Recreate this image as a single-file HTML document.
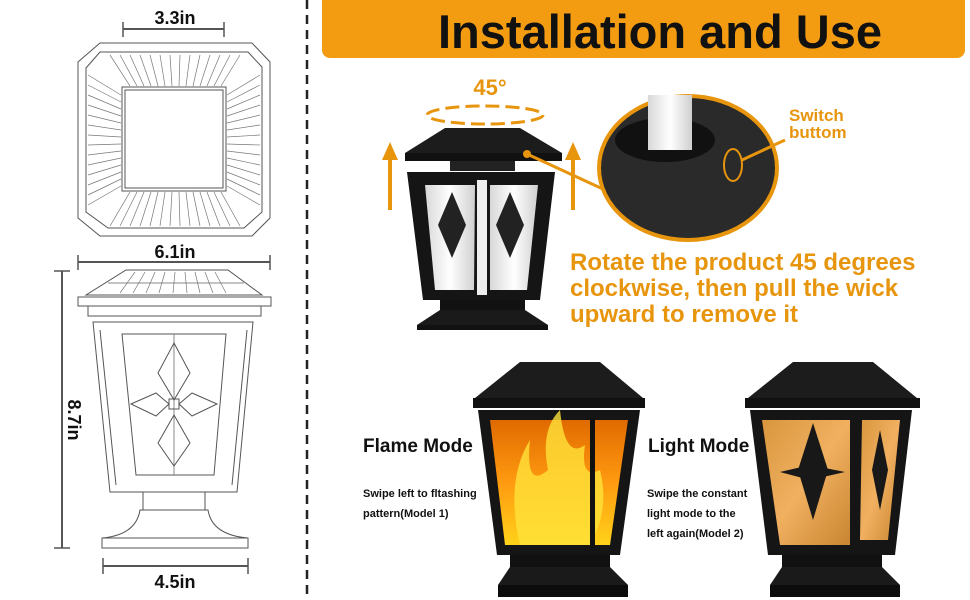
<!DOCTYPE html>
<html><head><meta charset="utf-8"><style>
html,body{margin:0;padding:0;background:#fff;width:970px;height:600px;overflow:hidden}
svg{display:block}
text{font-family:"Liberation Sans",sans-serif;font-weight:bold}
</style></head><body>
<svg width="970" height="600" viewBox="0 0 970 600" xmlns="http://www.w3.org/2000/svg">
<defs>
<linearGradient id="fl" x1="0" y1="1" x2="0" y2="0">
<stop offset="0" stop-color="#ffd21a"/><stop offset="0.5" stop-color="#ff9a10"/><stop offset="1" stop-color="#e06a00"/></linearGradient>
<linearGradient id="lt" x1="0" y1="0" x2="1" y2="1">
<stop offset="0" stop-color="#d9963d"/><stop offset="0.5" stop-color="#f0b060"/><stop offset="1" stop-color="#c98530"/></linearGradient>
<linearGradient id="gl" x1="0" y1="0" x2="1" y2="0">
<stop offset="0" stop-color="#d8d8d8"/><stop offset="0.5" stop-color="#ffffff"/><stop offset="1" stop-color="#cfcfcf"/></linearGradient>
</defs>

<g stroke="#555" fill="none" stroke-width="1">
<line x1="123" y1="29" x2="224" y2="29" stroke-width="2"/>
<line x1="123" y1="22" x2="123" y2="37" stroke-width="1.5"/>
<line x1="224" y1="22" x2="224" y2="37" stroke-width="1.5"/>
<polygon points="100,43 252,43 270,62 270,218 252,236 100,236 78,218 78,62"/>
<polygon points="100,52 248,52 262,67 262,212 244,228 108,228 86,212 86,68"/>
<rect x="122" y="87" width="104" height="104"/>
<rect x="125" y="90" width="98" height="98"/>
</g>
<g stroke="#777" stroke-width="0.7">
<line x1="110" y1="55" x2="130" y2="86"/><line x1="120" y1="55" x2="137" y2="86"/><line x1="130" y1="55" x2="144" y2="86"/><line x1="140" y1="55" x2="151" y2="86"/><line x1="150" y1="55" x2="158" y2="86"/><line x1="160" y1="55" x2="165" y2="86"/><line x1="170" y1="55" x2="172" y2="86"/><line x1="180" y1="55" x2="179" y2="86"/><line x1="190" y1="55" x2="186" y2="86"/><line x1="200" y1="55" x2="193" y2="86"/><line x1="210" y1="55" x2="200" y2="86"/><line x1="220" y1="55" x2="207" y2="86"/><line x1="230" y1="55" x2="214" y2="86"/><line x1="240" y1="55" x2="221" y2="86"/>
<line x1="110" y1="226" x2="130" y2="192"/><line x1="120" y1="226" x2="137" y2="192"/><line x1="130" y1="226" x2="144" y2="192"/><line x1="140" y1="226" x2="151" y2="192"/><line x1="150" y1="226" x2="158" y2="192"/><line x1="160" y1="226" x2="165" y2="192"/><line x1="170" y1="226" x2="172" y2="192"/><line x1="180" y1="226" x2="179" y2="192"/><line x1="190" y1="226" x2="186" y2="192"/><line x1="200" y1="226" x2="193" y2="192"/><line x1="210" y1="226" x2="200" y2="192"/><line x1="220" y1="226" x2="207" y2="192"/><line x1="230" y1="226" x2="214" y2="192"/><line x1="240" y1="226" x2="221" y2="192"/>
<line x1="88" y1="75" x2="121" y2="95"/><line x1="88" y1="85" x2="121" y2="102"/><line x1="88" y1="95" x2="121" y2="109"/><line x1="88" y1="105" x2="121" y2="116"/><line x1="88" y1="115" x2="121" y2="123"/><line x1="88" y1="125" x2="121" y2="130"/><line x1="88" y1="135" x2="121" y2="137"/><line x1="88" y1="145" x2="121" y2="144"/><line x1="88" y1="155" x2="121" y2="151"/><line x1="88" y1="165" x2="121" y2="158"/><line x1="88" y1="175" x2="121" y2="165"/><line x1="88" y1="185" x2="121" y2="172"/><line x1="88" y1="195" x2="121" y2="179"/><line x1="88" y1="205" x2="121" y2="186"/>
<line x1="260" y1="75" x2="227" y2="95"/><line x1="260" y1="85" x2="227" y2="102"/><line x1="260" y1="95" x2="227" y2="109"/><line x1="260" y1="105" x2="227" y2="116"/><line x1="260" y1="115" x2="227" y2="123"/><line x1="260" y1="125" x2="227" y2="130"/><line x1="260" y1="135" x2="227" y2="137"/><line x1="260" y1="145" x2="227" y2="144"/><line x1="260" y1="155" x2="227" y2="151"/><line x1="260" y1="165" x2="227" y2="158"/><line x1="260" y1="175" x2="227" y2="165"/><line x1="260" y1="185" x2="227" y2="172"/><line x1="260" y1="195" x2="227" y2="179"/><line x1="260" y1="205" x2="227" y2="186"/>
</g>
<text x="175" y="24" font-size="18" text-anchor="middle" fill="#111">3.3in</text>
<text x="175" y="258" font-size="18" text-anchor="middle" fill="#111">6.1in</text>
<g stroke="#555" fill="none">
<line x1="78" y1="262" x2="270" y2="262" stroke-width="2"/>
<line x1="78" y1="255" x2="78" y2="270" stroke-width="1.5"/>
<line x1="270" y1="255" x2="270" y2="270" stroke-width="1.5"/>
<polygon points="126,270 228,270 262,295 86,295"/>
<line x1="108" y1="283" x2="244" y2="283" stroke="#888"/>
<rect x="78" y="297" width="193" height="9"/>
<rect x="88" y="306" width="173" height="10"/>
<polygon points="93,322 253,322 237,492 110,492"/>
<polygon points="122,334 226,334 214,475 136,475"/>
<line x1="100" y1="330" x2="116" y2="485"/><line x1="247" y1="330" x2="232" y2="485"/>
<line x1="174" y1="334" x2="174" y2="475" stroke="#888"/>
<polygon points="174,343 190,373 174,400 158,373"/>
<polygon points="174,415 190,443 174,466 158,443"/>
<polygon points="131,404 156,393 169,404 156,416"/>
<polygon points="217,404 192,393 179,404 192,416"/>
<rect x="169" y="399" width="10" height="10"/>
<line x1="143" y1="492" x2="143" y2="510"/><line x1="205" y1="492" x2="205" y2="510"/>
<path d="M140,510 Q136,535 102,538 L102,548 L248,548 L248,538 Q212,535 208,510 Z"/>
<line x1="102" y1="538" x2="248" y2="538"/>
<line x1="62" y1="271" x2="62" y2="548" stroke-width="2"/>
<line x1="54" y1="271" x2="70" y2="271" stroke-width="1.5"/>
<line x1="54" y1="548" x2="70" y2="548" stroke-width="1.5"/>
<line x1="103" y1="566" x2="248" y2="566" stroke-width="2"/>
<line x1="103" y1="558" x2="103" y2="574" stroke-width="1.5"/>
<line x1="248" y1="558" x2="248" y2="574" stroke-width="1.5"/>
</g>
<g stroke="#777" stroke-width="0.7">
<line x1="135" y1="272" x2="120" y2="293"/><line x1="145" y1="272" x2="133" y2="293"/><line x1="155" y1="272" x2="146" y2="293"/><line x1="165" y1="272" x2="159" y2="293"/><line x1="175" y1="272" x2="173" y2="293"/><line x1="185" y1="272" x2="187" y2="293"/><line x1="195" y1="272" x2="200" y2="293"/><line x1="205" y1="272" x2="213" y2="293"/><line x1="215" y1="272" x2="226" y2="293"/>
</g>
<text transform="translate(68,420) rotate(90)" font-size="18" text-anchor="middle" fill="#111">8.7in</text>
<text x="175" y="588" font-size="18" text-anchor="middle" fill="#111">4.5in</text>

<line x1="307" y1="0" x2="307" y2="600" stroke="#222" stroke-width="2.5" stroke-dasharray="9,6"/>

<rect x="322" y="-8" width="643" height="66" rx="8" fill="#f39c12"/>
<text x="660" y="48" font-size="47" text-anchor="middle" fill="#111">Installation and Use</text>

<text x="490" y="95" font-size="22" text-anchor="middle" fill="#e8950e">45°</text>
<ellipse cx="485" cy="115" rx="58" ry="9" fill="none" stroke="#e8950e" stroke-width="3" stroke-dasharray="14,6"/>
<g fill="#e8950e">
<rect x="388" y="160" width="4" height="50"/><polygon points="382,160 398,160 390,142"/>
<rect x="571" y="160" width="4" height="50"/><polygon points="565,160 581,160 573,142"/>
</g>
<polygon points="445,128 520,128 562,153 405,153" fill="#1c1c1c"/>
<rect x="405" y="153" width="157" height="8" fill="#111"/>
<rect x="450" y="161" width="65" height="10" fill="#222"/>
<polygon points="407,172 555,172 540,300 423,300" fill="#151515"/>
<polygon points="425,185 475,185 474,290 435,290" fill="url(#gl)"/>
<polygon points="490,185 538,185 527,290 490,290" fill="url(#gl)"/>
<polygon points="452,192 466,225 452,258 438,225" fill="#222"/>
<polygon points="510,192 524,225 510,258 496,225" fill="#222"/>
<rect x="477" y="180" width="10" height="115" fill="#eee"/>
<rect x="440" y="300" width="85" height="10" fill="#111"/>
<polygon points="440,310 525,310 548,325 417,325" fill="#1a1a1a"/>
<rect x="417" y="325" width="131" height="5" fill="#111"/>
<circle cx="527" cy="154" r="4" fill="#e8950e"/>
<line x1="527" y1="154" x2="605" y2="190" stroke="#e8950e" stroke-width="3"/>

<ellipse cx="688" cy="168" rx="89" ry="72" fill="#2a2a2a" stroke="#e8950e" stroke-width="4"/>
<ellipse cx="665" cy="140" rx="50" ry="22" fill="#111"/>
<rect x="648" y="95" width="44" height="55" fill="url(#gl)"/>
<ellipse cx="733" cy="165" rx="9" ry="16" fill="none" stroke="#e8950e" stroke-width="2"/>
<line x1="742" y1="160" x2="785" y2="140" stroke="#e8950e" stroke-width="3"/>
<text x="789" y="121" font-size="17" fill="#e8950e">Switch</text>
<text x="789" y="138" font-size="17" fill="#e8950e">buttom</text>

<g font-size="24" fill="#e8950e">
<text x="570" y="270">Rotate the product 45 degrees</text>
<text x="570" y="296">clockwise, then pull the wick</text>
<text x="570" y="322">upward to remove it</text>
</g>

<polygon points="520,362 600,362 643,398 475,398" fill="#1c1c1c"/>
<rect x="473" y="398" width="172" height="10" fill="#111"/>
<polygon points="478,410 640,410 620,555 497,555" fill="#151515"/>
<polygon points="490,420 628,420 610,545 505,545" fill="url(#fl)"/>
<path d="M520,545 Q505,480 530,440 Q525,490 548,470 Q540,430 560,410 Q565,460 585,445 Q580,480 600,470 Q610,510 590,545 Z" fill="#ffe23a" opacity="0.8"/>
<rect x="590" y="418" width="5" height="130" fill="#111"/>
<rect x="510" y="555" width="100" height="12" fill="#111"/>
<polygon points="510,567 610,567 628,585 498,585" fill="#1a1a1a"/>
<rect x="498" y="585" width="130" height="12" fill="#0c0c0c"/>

<polygon points="793,362 873,362 917,398 748,398" fill="#1c1c1c"/>
<rect x="745" y="398" width="175" height="10" fill="#111"/>
<polygon points="750,410 912,410 895,555 768,555" fill="#151515"/>
<polygon points="762,420 850,420 850,545 780,545" fill="url(#lt)"/>
<polygon points="862,420 900,420 888,540 860,540" fill="url(#lt)"/>
<polygon points="813,423 828,470 813,520 798,470" fill="#181818"/>
<polygon points="780,472 810,465 845,472 810,480" fill="#181818"/>
<polygon points="880,430 888,470 880,510 872,470" fill="#181818"/>
<rect x="782" y="555" width="100" height="12" fill="#111"/>
<polygon points="782,567 882,567 900,585 770,585" fill="#1a1a1a"/>
<rect x="770" y="585" width="130" height="12" fill="#0c0c0c"/>

<text x="363" y="452" font-size="19" fill="#111">Flame Mode</text>
<text x="363" y="497" font-size="11" fill="#111">Swipe left to fltashing</text>
<text x="363" y="517" font-size="11" fill="#111">pattern(Model 1)</text>
<text x="648" y="452" font-size="19" fill="#111">Light Mode</text>
<text x="647" y="497" font-size="11" fill="#111">Swipe the constant</text>
<text x="647" y="517" font-size="11" fill="#111">light mode to the</text>
<text x="647" y="537" font-size="11" fill="#111">left again(Model 2)</text>
</svg>
</body></html>
